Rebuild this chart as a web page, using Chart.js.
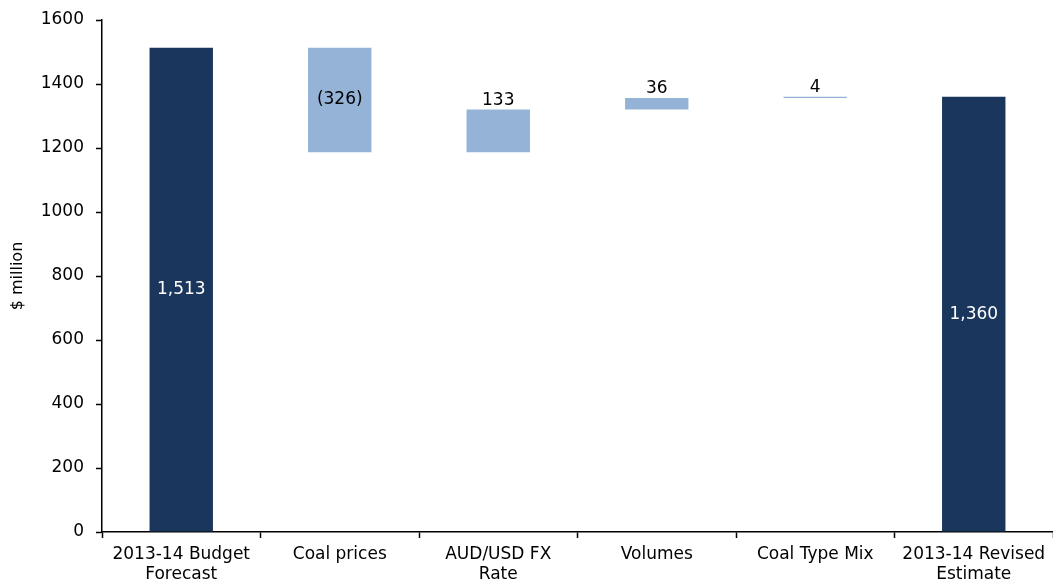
<!DOCTYPE html>
<html>
<head>
<meta charset="utf-8">
<script src="https://cdn.jsdelivr.net/npm/chart.js@4"></script>
<style>
  html, body { margin: 0; padding: 0; background: #fff; }
  #wrap { width: 1053px; height: 585px; }
</style>
</head>
<body>
<div id="wrap"><canvas id="chart" width="1053" height="585"></canvas></div>
<script>
// categories and values (waterfall)
const categories = [['2013-14 Budget', 'Forecast'], 'Coal prices', ['AUD/USD FX', 'Rate'], 'Volumes', 'Coal Type Mix', ['2013-14 Revised', 'Estimate']];
const values = [1513, -326, 133, 36, 4, 1360];
const isTotal = [true, false, false, false, false, true];
const yTicks = [0, 200, 400, 600, 800, 1000, 1200, 1400, 1600];

const DARK = '#1b365d';
const LIGHT = '#95b3d7';
const FONT = "'DejaVu Sans', sans-serif";

// build floating bars from running total
let running = 0;
const bars = [];
for (let i = 0; i < values.length; i++) {
  if (isTotal[i]) {
    bars.push([0, values[i]]);
    running = values[i];
  } else {
    let start = running;
    running = running + values[i];
    bars.push([Math.min(start, running), Math.max(start, running)]);
  }
}

function fmt(v) {
  let s = Math.abs(v).toLocaleString('en-US');
  return v < 0 ? '(' + s + ')' : s;
}

// draw the value labels
const labelPlugin = {
  id: 'wfLabels',
  afterDatasetsDraw(chart) {
    const ctx = chart.ctx;
    const meta = chart.getDatasetMeta(0);
    ctx.save();
    ctx.font = '17px ' + FONT;
    ctx.textAlign = 'center';
    meta.data.forEach((bar, i) => {
      const v = values[i];
      let y;
      if (isTotal[i]) {
        ctx.fillStyle = '#ffffff';
        ctx.textBaseline = 'middle';
        y = (bar.y + bar.base) / 2;
      } else if (v < 0) {
        ctx.fillStyle = '#000000';
        ctx.textBaseline = 'middle';
        y = (bar.y + bar.base) / 2;
      } else {
        ctx.fillStyle = '#000000';
        ctx.textBaseline = 'bottom';
        y = Math.min(bar.y, bar.base) - 1;
      }
      ctx.fillText(fmt(v), bar.x, y);
    });
    ctx.restore();
  }
};

new Chart(document.getElementById('chart'), {
  type: 'bar',
  data: {
    labels: categories,
    datasets: [{
      data: bars,
      backgroundColor: isTotal.map(t => t ? DARK : LIGHT),
      borderWidth: 0,
      barPercentage: 1,
      categoryPercentage: 0.4
    }]
  },
  options: {
    responsive: false,
    animation: false,
    layout: { padding: { top: 20, right: 0, left: 0, bottom: 0 } },
    plugins: {
      legend: { display: false },
      tooltip: { enabled: false }
    },
    scales: {
      x: {
        grid: { display: true, drawOnChartArea: false, offset: true, tickLength: 6, tickColor: '#000', tickWidth: 1.5 },
        border: { color: '#000', width: 1.5 },
        ticks: { color: '#000', font: { family: FONT, size: 17, lineHeight: 1.2 }, padding: 6, maxRotation: 0, autoSkip: false },
        afterFit(scale) { scale.height = 53; }
      },
      y: {
        min: 0,
        max: 1600,
        afterBuildTicks(scale) { scale.ticks = yTicks.map(v => ({ value: v })); },
        grid: { display: true, drawOnChartArea: false, tickLength: 6, tickColor: '#000', tickWidth: 1.5 },
        border: { color: '#000', width: 1.5 },
        ticks: { color: '#000', font: { family: FONT, size: 17, lineHeight: 1 }, padding: 12, callback: v => String(v) },
        title: { display: true, text: '$ million', color: '#000', font: { family: FONT, size: 16 }, padding: { top: 8, bottom: 0 } },
        afterFit(scale) { scale.width = 102; scale.paddingTop = 0; }
      }
    }
  },
  plugins: [labelPlugin]
});
</script>
</body>
</html>
